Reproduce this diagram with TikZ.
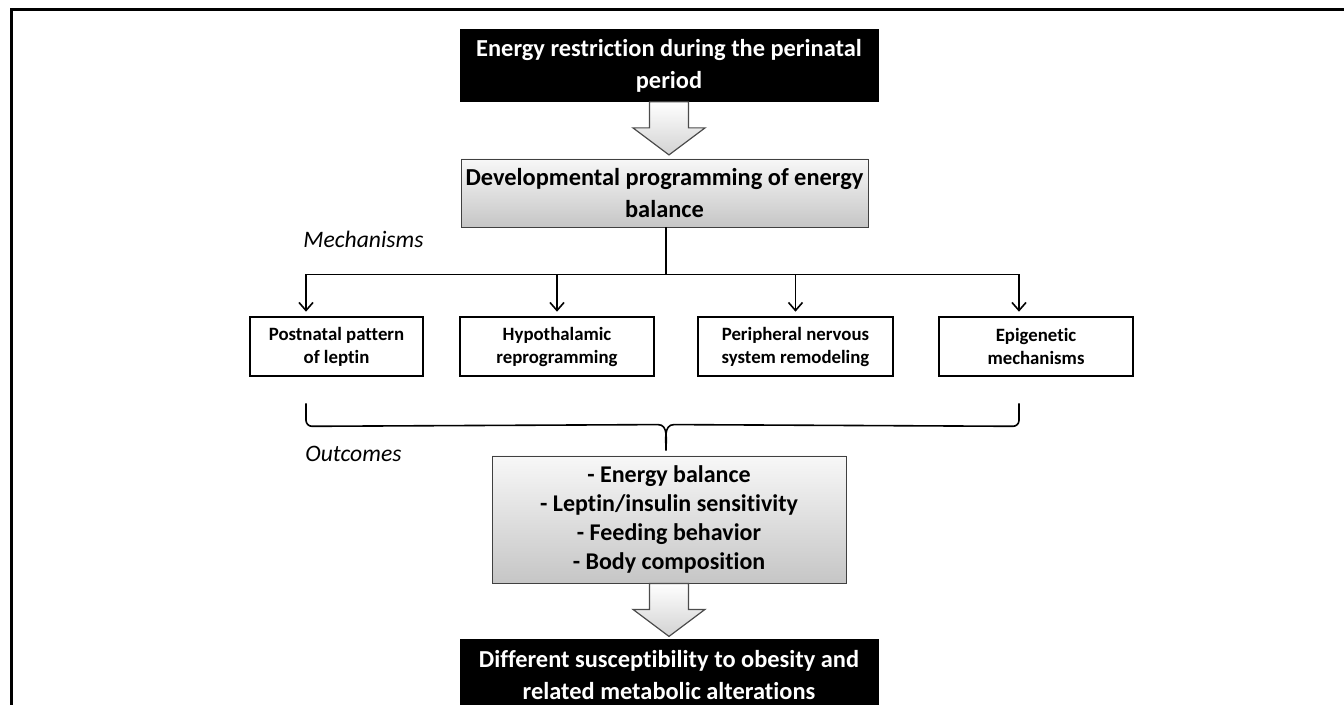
\documentclass[tikz,border=0pt]{standalone}
\usepackage{fontspec}
\setmainfont{Carlito}[Ligatures=NoCommon]
\usetikzlibrary{calc,arrows.meta}

\begin{document}
\begin{tikzpicture}
[x=0.5pt,y=-0.5pt,
  darkBox/.style={shape=rectangle,fill=black,draw=black,text=white,inner sep=0pt,align=center,%
    minimum width=209pt,minimum height=36pt,font=\bfseries\fontsize{12.2}{16}\selectfont},%
  greyBox/.style={shape=rectangle,draw=black!75,top color=gray!6,bottom color=gray!45,inner sep=0pt,%
    align=center,font=\bfseries\fontsize{12.2}{16}\selectfont},%
  mechBox/.style={shape=rectangle,draw=black,line width=1.3pt,inner sep=0pt,align=center,%
    minimum height=29.5pt,font=\bfseries\fontsize{9.4}{11.5}\selectfont},%
  lineDecorate/.style={-,thick},%
  blockArrow/.style={draw=gray!60!black,line width=0.6pt,top color=white,bottom color=gray!35},%
  tagText/.style={anchor=base west,inner sep=0pt,font=\itshape\fontsize{11.8}{14}\selectfont}]
\useasboundingbox (0,0) rectangle (1344,705);
%% frame
\draw[line width=1.5pt] (1344,10) -- (11,10) -- (11,705);
%% main boxes
\node (top) at (669,65.5) [darkBox] {Energy restriction during the perinatal\\period};
\node (prog) at (664.5,193) [greyBox,minimum width=203.5pt,minimum height=34pt]
  {Developmental programming of energy\\balance};
\node (out) at (669,519.5) [greyBox,minimum width=177pt,minimum height=63.5pt,%
  font=\bfseries\fontsize{12}{14.5}\selectfont]
  {- Energy balance\\- Leptin/insulin sensitivity\\- Feeding behavior\\- Body composition};
\node (final) at (669,675) [darkBox] {Different susceptibility to obesity and\\related metabolic alterations};
%% mechanisms
\foreach \nodename/\x/\w/\txt in {
  postnatal/336.5/86.5pt/{Postnatal pattern\\of leptin},
  hypo/557/97pt/{Hypothalamic\\reprogramming},
  peripheral/795.5/97.5pt/{Peripheral nervous\\system remodeling},
  epigen/1036/97pt/{Epigenetic\\mechanisms}}
{
  \node (\nodename) at (\x,346.5) [mechBox,minimum width=\w] {\txt};
}
\node (mechTag) at (303,248) [tagText] {Mechanisms};
\node (outTag) at (305,462) [tagText] {Outcomes};
%% block arrows
\foreach \from in {top,out}
{
  \draw[blockArrow] (\from.south) ++(-19.5,0) -- ++(0,26) -- ++(-16.5,0) -- ++(36,27)
    -- ++(36,-27) -- ++(-16.5,0) -- ++(0,-26) -- cycle;
}
%% tree
\coordinate (bus) at ([xshift=0.75pt,yshift=-23.5pt]prog.south);
\draw[lineDecorate] (bus |- prog.south) -- (bus);
\foreach \nodename/\dx in {postnatal/-15.25pt, hypo/0pt, peripheral/0pt, epigen/-8.5pt}
{
  \draw[lineDecorate,-{Straight Barb[length=4pt,width=7pt]},shorten >=2pt]
    (bus) -| ([xshift=\dx]\nodename.north);
}
%% brace
\coordinate (braceL) at ([xshift=-15.25pt,yshift=-13pt]postnatal.south);
\coordinate (braceR) at ([xshift=-8.5pt,yshift=-13pt]epigen.south);
\coordinate (braceTip) at ([xshift=-1.5pt,yshift=2.5pt]out.north);
\draw[lineDecorate] (braceL) -- ++(0,17) to[out=-90,in=180] ++(6,6)
  -- ($(braceTip)+(-8,-26)$) to[out=0,in=90] (braceTip) to[out=90,in=180] ++(8,-26)
  -- ($(braceR)+(-6,23)$) to[out=0,in=-90] ++(6,-6) -- (braceR);
\end{tikzpicture}
\end{document}
